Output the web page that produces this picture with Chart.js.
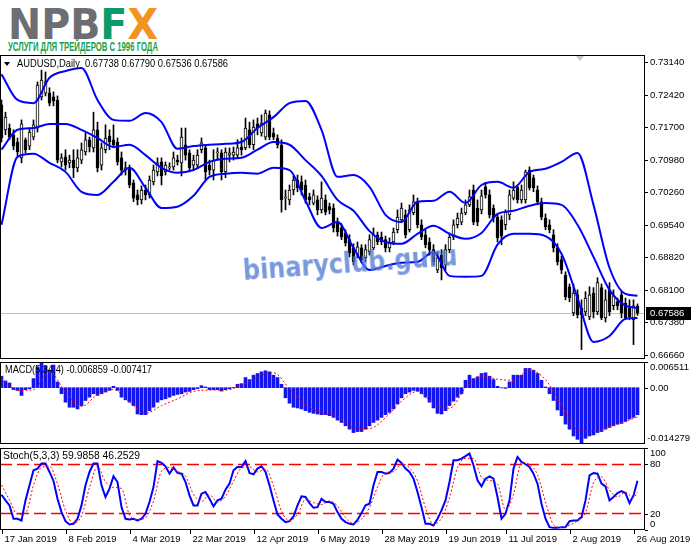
<!DOCTYPE html>
<html>
<head>
<meta charset="utf-8">
<script src="https://cdn.jsdelivr.net/npm/chart.js@4.4.1/dist/chart.umd.min.js"></script>
<style>
body{margin:0;width:691px;height:549px;background:#fff;position:relative;overflow:hidden;font-family:"Liberation Sans",Arial,sans-serif}
canvas{position:absolute;left:0}
.t{position:absolute;white-space:pre;font-size:10px;line-height:12px;color:#000;z-index:2;transform-origin:0 50%}
#logo{position:absolute;left:8px;top:4px;font:bold 42px/42px "DejaVu Sans",sans-serif;white-space:nowrap;transform-origin:0 0;z-index:2}
#logo .g{color:#6d6e71}#logo .f{color:#0c9a69}#logo .x{color:#f39321}
#slogan{position:absolute;left:8px;top:41px;font:bold 12px/12px "Liberation Sans",Arial,sans-serif;color:#17a04c;white-space:nowrap;transform-origin:0 0;z-index:2}
#tri{position:absolute;left:4px;top:62px;width:0;height:0;border-left:3px solid transparent;border-right:3px solid transparent;border-top:4px solid #000;z-index:2}
#wm{position:absolute;left:243px;top:255px;font:bold 28px/32px "DejaVu Sans",sans-serif;color:rgba(82,124,212,0.78);white-space:nowrap;transform-origin:0 50%;z-index:3}
#shift{position:absolute;left:576px;top:56px;width:0;height:0;border-left:4px solid transparent;border-right:4px solid transparent;border-top:5px solid #c8c8c8;z-index:2}
</style>
</head>
<body>
<canvas id="main" width="691" height="304" style="top:55px"></canvas>
<canvas id="macd" width="691" height="82" style="top:362px"></canvas>
<canvas id="stoch" width="691" height="101" style="top:448px"></canvas>
<div id="logo"><span class="g">NPB</span><span class="f">F</span><span class="x">X</span></div>
<div id="slogan">УСЛУГИ ДЛЯ ТРЕЙДЕРОВ С 1996 ГОДА</div>
<div id="tri"></div>
<div id="sym" class="t" style="left:17px;top:58px"></div>
<div id="macdTitle" class="t" style="left:5px;top:364px"></div>
<div id="stochTitle" class="t" style="left:3px;top:450px"></div>
<div id="wm">binaryclub.guru</div>
<div id="shift"></div>
<script>
// AUDUSD daily bars, 17 Jan 2019 .. 27 Aug 2019
const opens = [0.7219,0.7164,0.7168,0.7153,0.7137,0.7102,0.7142,0.7128,0.7148,0.7168,
  0.7237,0.7245,0.7245,0.7237,0.7230,0.7093,0.7104,0.7091,0.7097,0.7080,
  0.7097,0.7115,0.7142,0.7124,0.7164,0.7086,0.7120,0.7150,0.7142,0.7137,
  0.7102,0.7075,0.7080,0.7047,0.7020,0.7009,0.7031,0.7020,0.7049,0.7071,
  0.7093,0.7071,0.7080,0.7082,0.7097,0.7091,0.7131,0.7113,0.7086,0.7086,
  0.7120,0.7124,0.7086,0.7075,0.7113,0.7113,0.7071,0.7108,0.7108,0.7108,
  0.7126,0.7124,0.7164,0.7131,0.7177,0.7157,0.7148,0.7197,0.7157,0.7146,
  0.7131,0.7013,0.7009,0.7031,0.7053,0.7049,0.7042,0.7016,0.7002,0.7009,
  0.6987,0.7009,0.6994,0.6991,0.6960,0.6947,0.6936,0.6921,0.6903,0.6887,
  0.6903,0.6881,0.6894,0.6903,0.6932,0.6927,0.6921,0.6903,0.6916,0.6943,
  0.6965,0.6976,0.6943,0.6980,0.7005,0.6954,0.6932,0.6916,0.6899,0.6854,
  0.6887,0.6865,0.6899,0.6927,0.6954,0.6960,0.6980,0.6998,0.7031,0.6991,
  0.6987,0.7038,0.7020,0.6991,0.6971,0.6965,0.6954,0.6976,0.7013,0.7036,
  0.7009,0.7009,0.7075,0.7058,0.7031,0.7005,0.6969,0.6954,0.6932,0.6903,
  0.6877,0.6843,0.6817,0.6759,0.6799,0.6770,0.6761,0.6750,0.6803,0.6761,
  0.6815,0.6748,0.6810,0.6775,0.6784,0.6799,0.6781,0.6770,0.6744,0.67738];
const highs = [0.7230,0.7203,0.7177,0.7164,0.7146,0.7186,0.7146,0.7168,0.7186,0.7270,
  0.7296,0.7292,0.7257,0.7248,0.7239,0.7111,0.7120,0.7108,0.7120,0.7120,
  0.7135,0.7157,0.7148,0.7203,0.7181,0.7135,0.7175,0.7164,0.7175,0.7146,
  0.7115,0.7093,0.7086,0.7053,0.7031,0.7040,0.7042,0.7062,0.7086,0.7102,
  0.7102,0.7093,0.7091,0.7115,0.7108,0.7168,0.7168,0.7120,0.7108,0.7120,
  0.7146,0.7131,0.7097,0.7120,0.7124,0.7120,0.7124,0.7124,0.7126,0.7142,
  0.7146,0.7190,0.7181,0.7186,0.7190,0.7197,0.7208,0.7206,0.7168,0.7153,
  0.7142,0.7031,0.7042,0.7062,0.7064,0.7062,0.7053,0.7024,0.7031,0.7018,
  0.7049,0.7020,0.7002,0.7000,0.6969,0.6956,0.6943,0.6932,0.6912,0.6916,
  0.6910,0.6910,0.6932,0.6947,0.6938,0.6938,0.6929,0.6925,0.6947,0.6987,
  0.7002,0.6987,0.6998,0.7020,0.7013,0.6965,0.6943,0.6925,0.6910,0.6894,
  0.6899,0.6910,0.6936,0.6965,0.6980,0.6991,0.7009,0.7031,0.7042,0.7009,
  0.7031,0.7047,0.7031,0.6998,0.6978,0.6974,0.6987,0.7031,0.7049,0.7042,
  0.7042,0.7075,0.7082,0.7064,0.7040,0.7013,0.6978,0.6965,0.6943,0.6912,
  0.6885,0.6850,0.6823,0.6823,0.6810,0.6788,0.6806,0.6817,0.6815,0.6837,
  0.6823,0.6810,0.6826,0.6810,0.6792,0.6806,0.6792,0.6788,0.6788,0.67790];
const lows = [0.7137,0.7153,0.7142,0.7120,0.7106,0.7091,0.7113,0.7120,0.7142,0.7159,
  0.7230,0.7239,0.7217,0.7217,0.7091,0.7082,0.7075,0.7080,0.7058,0.7071,
  0.7089,0.7108,0.7115,0.7115,0.7071,0.7075,0.7113,0.7120,0.7124,0.7086,
  0.7064,0.7064,0.7036,0.7005,0.6998,0.7000,0.7009,0.7013,0.7042,0.7062,
  0.7042,0.7064,0.7075,0.7075,0.7086,0.7062,0.7097,0.7071,0.7075,0.7080,
  0.7113,0.7053,0.7064,0.7053,0.7097,0.7053,0.7058,0.7093,0.7097,0.7102,
  0.7108,0.7120,0.7124,0.7120,0.7153,0.7150,0.7142,0.7142,0.7142,0.7124,
  0.6982,0.6987,0.6998,0.7020,0.7027,0.7020,0.7002,0.6998,0.6998,0.6976,
  0.6980,0.6976,0.6978,0.6938,0.6929,0.6921,0.6907,0.6883,0.6865,0.6881,
  0.6870,0.6872,0.6887,0.6899,0.6910,0.6910,0.6894,0.6894,0.6910,0.6936,
  0.6960,0.6925,0.6938,0.6976,0.6947,0.6921,0.6903,0.6887,0.6865,0.6848,
  0.6832,0.6854,0.6892,0.6921,0.6947,0.6954,0.6976,0.6994,0.6954,0.6952,
  0.6978,0.7013,0.6969,0.6960,0.6916,0.6910,0.6943,0.6965,0.7009,0.7002,
  0.7002,0.7002,0.7031,0.7027,0.6998,0.6965,0.6943,0.6936,0.6894,0.6865,
  0.6846,0.6788,0.6784,0.6753,0.6748,0.6678,0.6753,0.6744,0.6748,0.6755,
  0.6744,0.6739,0.6753,0.6766,0.6766,0.6748,0.6744,0.6744,0.6689,0.67536];
const closes = [0.7146,0.7192,0.7148,0.7128,0.7115,0.7177,0.7120,0.7159,0.7175,0.7263,
  0.7274,0.7270,0.7223,0.7228,0.7097,0.7102,0.7086,0.7097,0.7080,0.7102,
  0.7120,0.7142,0.7126,0.7164,0.7080,0.7124,0.7146,0.7137,0.7131,0.7093,
  0.7075,0.7080,0.7042,0.7013,0.7009,0.7031,0.7020,0.7053,0.7075,0.7091,
  0.7062,0.7086,0.7082,0.7102,0.7093,0.7148,0.7108,0.7080,0.7097,0.7108,
  0.7135,0.7071,0.7075,0.7097,0.7115,0.7071,0.7115,0.7113,0.7115,0.7124,
  0.7120,0.7168,0.7131,0.7170,0.7168,0.7179,0.7201,0.7148,0.7148,0.7131,
  0.7009,0.7016,0.7031,0.7053,0.7036,0.7031,0.7009,0.7009,0.7020,0.6987,
  0.7013,0.6982,0.6987,0.6947,0.6938,0.6927,0.6914,0.6892,0.6872,0.6905,
  0.6877,0.6899,0.6921,0.6932,0.6916,0.6916,0.6903,0.6914,0.6938,0.6971,
  0.6991,0.6932,0.6987,0.7005,0.6954,0.6927,0.6910,0.6899,0.6872,0.6881,
  0.6859,0.6899,0.6927,0.6954,0.6969,0.6980,0.6998,0.7016,0.6960,0.6960,
  0.7018,0.7020,0.6976,0.6969,0.6925,0.6929,0.6982,0.7020,0.7031,0.7009,
  0.7031,0.7071,0.7036,0.7036,0.7005,0.6971,0.6949,0.6943,0.6903,0.6872,
  0.6854,0.6795,0.6792,0.6803,0.6755,0.6755,0.6792,0.6799,0.6761,0.6826,
  0.6748,0.6788,0.6761,0.6797,0.6775,0.6759,0.6748,0.6750,0.6775,0.67586];

// Bollinger bands, read every 4th bar (+ last bar)
const bandIdx = [0,4,8,12,16,20,24,28,32,36,40,44,48,52,56,60,64,68,72,76,80,84,88,92,96,100,104,108,112,116,120,124,128,132,136,140,144,148,152,156,159];
const bbUpper = [0.7287,0.7230,0.7223,0.7279,0.7294,0.7301,0.7230,0.7186,0.7184,0.7201,
  0.7181,0.7122,0.7128,0.7131,0.7133,0.7137,0.7168,0.7192,0.7223,0.7228,
  0.7164,0.7060,0.7064,0.7038,0.6976,0.6960,0.7005,0.7007,0.7027,0.7002,
  0.7042,0.7049,0.7036,0.7071,0.7078,0.7093,0.7113,0.6998,0.6859,0.6801,0.6797];
const bbMiddle = [0.7120,0.7164,0.7168,0.7177,0.7177,0.7164,0.7146,0.7126,0.7131,0.7108,
  0.7080,0.7069,0.7075,0.7093,0.7100,0.7102,0.7120,0.7137,0.7131,0.7097,
  0.7062,0.7009,0.6985,0.6940,0.6916,0.6912,0.6934,0.6952,0.6934,0.6923,
  0.6936,0.6978,0.6985,0.6996,0.7002,0.6998,0.6954,0.6883,0.6810,0.6775,0.6770];
const bbLower = [0.6954,0.7104,0.7111,0.7091,0.7071,0.7027,0.7020,0.7049,0.7080,0.7036,
  0.6991,0.6994,0.7018,0.7060,0.7067,0.7069,0.7067,0.7080,0.7075,0.7007,
  0.6947,0.6960,0.6903,0.6854,0.6863,0.6870,0.6872,0.6894,0.6841,0.6839,
  0.6841,0.6910,0.6934,0.6934,0.6929,0.6890,0.6792,0.6695,0.6708,0.6746,0.6748];

// MACD(5,34,4): histogram per bar, signal read every 4th bar
const macdHist = [0.00291,0.00171,0.00120,-0.00051,-0.00068,-0.00197,-0.00051,-0.00026,0.00231,0.00531,
  0.006511,0.00548,0.00445,0.00574,0.00146,-0.00154,-0.00368,-0.00496,-0.00496,-0.00539,
  -0.00454,-0.00325,-0.00240,-0.00154,-0.00197,-0.00154,-0.00111,-0.00068,0.00034,-0.00068,
  -0.00240,-0.00308,-0.00368,-0.00454,-0.00668,-0.00685,-0.00685,-0.00582,-0.00496,-0.00368,
  -0.00308,-0.00282,-0.00240,-0.00197,-0.00171,-0.00154,-0.00111,-0.00094,-0.00051,-0.00026,
  0.00051,0.00017,-0.00051,-0.00051,-0.00051,-0.00086,-0.00051,-0.00026,0.00005,0.00086,
  0.00103,0.00257,0.00205,0.00317,0.00360,0.00402,0.00428,0.00402,0.00317,0.00257,
  0.00086,-0.00257,-0.00394,-0.00496,-0.00514,-0.00539,-0.00582,-0.00625,-0.00651,-0.00668,
  -0.00685,-0.00685,-0.00710,-0.00753,-0.00822,-0.00882,-0.00967,-0.01053,-0.01138,-0.01113,
  -0.01113,-0.01053,-0.00967,-0.00882,-0.00822,-0.00753,-0.00685,-0.00625,-0.00539,-0.00411,
  -0.00257,-0.00154,-0.00111,-0.00068,-0.00086,-0.00154,-0.00240,-0.00368,-0.00514,-0.00651,
  -0.00668,-0.00582,-0.00454,-0.00342,-0.00240,-0.00154,0.00188,0.00317,0.00231,0.00274,
  0.00360,0.00377,0.00291,0.00205,0.00034,-0.00005,-0.00017,0.00146,0.00317,0.00317,
  0.00317,0.00488,0.00488,0.00445,0.00360,0.00188,0.00017,-0.00154,-0.00325,-0.00565,
  -0.00710,-0.00924,-0.01053,-0.01224,-0.01310,-0.014279,-0.01284,-0.01224,-0.01198,-0.01138,
  -0.01113,-0.01053,-0.01010,-0.00967,-0.00924,-0.00907,-0.00856,-0.00796,-0.00753,-0.006859];
const macdSignal = [0.00231,-0.00068,-0.00051,0.00402,-0.00111,-0.00479,-0.00171,-0.00043,-0.00368,-0.00651,
  -0.00454,-0.00282,-0.00094,-0.00060,-0.00060,0.00060,0.00274,0.00377,-0.00026,-0.00454,
  -0.00625,-0.00736,-0.01010,-0.01036,-0.00762,-0.00342,-0.00094,-0.00411,-0.00522,-0.00009,
  0.00300,0.00214,0.00188,0.00445,0.00205,-0.00445,-0.01061,-0.01113,-0.00993,-0.00856,-0.007417];

// Stochastic(5,3,3): %K per bar, %D read every 2nd bar (+ last bar)
const stochK = [43.0,36.1,30.0,13.7,13.7,11.6,36.1,54.5,72.8,74.9,
  81.0,81.0,70.8,59.8,38.1,21.8,10.8,6.7,7.5,13.7,
  30.0,54.5,70.8,81.0,81.0,54.5,40.2,50.4,65.5,58.5,
  27.9,13.7,12.8,13.7,11.6,13.7,19.8,34.1,52.4,84.0,
  81.8,77.7,68.7,76.1,69.6,68.7,58.5,42.2,30.0,30.0,
  44.3,46.3,38.1,28.8,36.1,38.1,49.2,56.5,72.8,76.9,
  76.9,84.2,69.6,67.9,74.9,77.7,70.8,54.5,36.1,19.0,
  13.7,9.6,10.8,16.5,30.0,41.0,40.2,32.8,27.1,27.9,
  38.1,34.1,34.1,32.0,21.8,13.7,9.6,7.5,6.7,12.4,
  20.6,30.0,32.0,54.5,70.8,70.8,68.7,69.6,74.9,85.9,
  81.8,74.9,70.8,62.6,46.3,27.9,7.5,7.5,5.5,13.7,
  23.9,36.1,58.5,85.1,85.1,87.1,90.0,93.2,78.9,60.6,
  53.2,62.6,65.5,62.6,40.2,13.7,19.8,36.1,74.9,89.1,
  83.0,80.2,76.9,68.7,56.5,32.0,13.7,3.5,2.6,2.6,
  3.5,3.5,10.8,11.6,11.6,15.7,36.1,66.7,69.6,68.7,
  56.5,53.2,36.1,40.2,45.1,47.5,45.1,32.8,42.2,59.9858];
const stochIdxD = [0,2,4,6,8,10,12,14,16,18,20,22,24,26,28,30,32,34,36,38,40,42,44,46,48,50,52,54,56,58,
  60,62,64,66,68,70,72,74,76,78,80,82,84,86,88,90,92,94,96,98,100,102,104,106,108,110,112,114,116,118,
  120,122,124,126,128,130,132,134,136,138,140,142,144,146,148,150,152,154,156,158,159];
const stochD = [55,36.4,19.1,20.5,54.5,76.2,77.6,56.2,23.6,8.3,
  17.1,51.8,77.6,58.6,52.0,50.6,18.1,12.7,15.0,35.4,
  71.7,76.1,71.5,65.6,43.6,34.8,42.9,34.3,41.1,59.5,
  75.5,76.9,70.8,74.5,53.8,22.9,11.4,19.1,37.1,33.4,
  31.0,35.4,29.3,15.0,7.9,13.2,27.5,52.4,70.1,71.1,
  80.9,75.8,59.9,27.2,6.8,14.4,39.5,76.2,87.4,87.4,
  64.2,60.4,56.1,24.6,43.6,82.3,80.0,67.4,34.1,6.6,
  2.9,5.9,11.3,21.1,57.5,64.9,48.6,40.5,45.9,39.4,46.2529];

// axes
const dateIdx = [0,16,32,47,63,79,95,111,126,142,158];
const dateLabels = ['17 Jan 2019','8 Feb 2019','4 Mar 2019','22 Mar 2019','12 Apr 2019','6 May 2019',
  '28 May 2019','19 Jun 2019','11 Jul 2019','2 Aug 2019','26 Aug 2019'];
const priceTicks = [0.73140,0.72420,0.71700,0.70980,0.70260,0.69540,0.68820,0.68100,0.67380,0.66660];
const macdTicks = [0.006511,0,-0.014279];
const macdTickLabels = ['0.006511','0.00','-0.014279'];
const stochTicks = [100,80,20,0];
const stochLevels = [20,80];

const n = closes.length;
const bars = closes.map((c, i) => i);
const AXIS_FONT = '9.5px "Liberation Sans", Arial, sans-serif';
const xScale = {type: 'linear', min: -0.375, max: 160.875, offset: false, display: false};

const panel = {
  id: 'panel',
  beforeDatasetsDraw(chart, args, o) {
    const {ctx, chartArea: a} = chart;
    const y = chart.scales.y;
    ctx.save();
    if (o.levels) {
      ctx.strokeStyle = '#ff0000';
      ctx.lineWidth = 1.5;
      ctx.setLineDash([12, 5]);
      o.levels.forEach(v => {
        const py = y.getPixelForValue(v);
        ctx.beginPath(); ctx.moveTo(a.left, py); ctx.lineTo(a.right, py); ctx.stroke();
      });
    }
    if (o.last != null) {
      const py = Math.round(y.getPixelForValue(o.last)) + 0.5;
      ctx.strokeStyle = '#c0c0c0';
      ctx.lineWidth = 1;
      ctx.beginPath(); ctx.moveTo(a.left, py); ctx.lineTo(a.right, py); ctx.stroke();
    }
    ctx.restore();
  },
  afterDraw(chart, args, o) {
    const {ctx, chartArea: a} = chart;
    const y = chart.scales.y, x = chart.scales.x;
    ctx.save();
    ctx.strokeStyle = '#000';
    ctx.lineWidth = 1;
    ctx.strokeRect(a.left + 0.5, a.top + 0.5, a.right - a.left - 1, a.bottom - a.top - 1);
    ctx.font = AXIS_FONT;
    ctx.fillStyle = '#000';
    ctx.textBaseline = 'middle';
    o.ticks.forEach((v, k) => {
      const py = Math.round(y.getPixelForValue(v)) + 0.5;
      const ly = o.clamp ? Math.min(Math.max(py, a.top + 5), a.bottom - 6) : py;
      const lx = Math.min(a.right + 5, chart.width - 1 - ctx.measureText(o.labels[k]).width);
      ctx.beginPath(); ctx.moveTo(a.right, py); ctx.lineTo(a.right + 3, py); ctx.stroke();
      ctx.fillText(o.labels[k], lx, ly);
    });
    if (o.last != null) {
      const py = y.getPixelForValue(o.last);
      ctx.fillStyle = '#000';
      ctx.fillRect(a.right + 1, Math.round(py) - 6, 45, 13);
      ctx.fillStyle = '#fff';
      ctx.fillText(o.last.toFixed(5), a.right + 5, Math.round(py) + 0.5);
    }
    if (o.xticks) {
      ctx.fillStyle = '#000';
      o.xticks.forEach((v, k) => {
        const px = Math.round(x.getPixelForValue(v)) + 0.5;
        ctx.beginPath(); ctx.moveTo(px, a.bottom); ctx.lineTo(px, a.bottom + 4); ctx.stroke();
        ctx.fillText(o.xlabels[k], px + 2, a.bottom + 9);
      });
    }
    ctx.restore();
  }
};

const base = {
  responsive: false,
  animation: false,
  devicePixelRatio: 1,
  events: [],
};

const band = (vals) => ({
  type: 'line',
  data: bandIdx.map((i, k) => ({x: i, y: vals[k]})),
  borderColor: '#0000ff',
  borderWidth: 2,
  pointRadius: 0,
  cubicInterpolationMode: 'monotone',
  order: 1
});

new Chart(document.getElementById('main'), {
  type: 'bar',
  data: {
    datasets: [
      band(bbUpper), band(bbMiddle), band(bbLower),
      {
        data: bars.map(i => ({x: i, y: [opens[i], closes[i]]})),
        backgroundColor: bars.map(i => closes[i] >= opens[i] ? '#ffffff' : '#000000'),
        borderColor: '#000',
        borderWidth: 1,
        borderSkipped: false,
        barThickness: 3,
        minBarLength: 1,
        grouped: false,
        order: 2
      },
      {
        data: bars.map(i => ({x: i, y: [lows[i], highs[i]]})),
        backgroundColor: '#000',
        barThickness: 1,
        grouped: false,
        order: 3
      }
    ]
  },
  options: {
    ...base,
    layout: {padding: {left: 0, right: 46, top: 0, bottom: 0}},
    scales: {x: xScale, y: {min: 0.665715, max: 0.732948, display: false}},
    plugins: {
      legend: {display: false}, tooltip: {enabled: false},
      panel: {ticks: priceTicks, labels: priceTicks.map(v => v.toFixed(5)), last: closes[n - 1]}
    }
  },
  plugins: [panel]
});

new Chart(document.getElementById('macd'), {
  type: 'bar',
  data: {
    datasets: [
      {
        type: 'line',
        data: bandIdx.map((i, k) => ({x: i, y: macdSignal[k]})),
        borderColor: '#ff0000',
        borderWidth: 1,
        borderDash: [2, 2],
        pointRadius: 0,
        cubicInterpolationMode: 'monotone',
        order: 1
      },
      {
        data: bars.map(i => ({x: i, y: macdHist[i]})),
        backgroundColor: '#1414f0',
        barThickness: 3,
        grouped: false,
        order: 2
      }
    ]
  },
  options: {
    ...base,
    layout: {padding: {left: 0, right: 46, top: 0, bottom: 0}},
    scales: {x: xScale, y: {min: -0.014279, max: 0.006511, display: false}},
    plugins: {
      legend: {display: false}, tooltip: {enabled: false},
      panel: {ticks: macdTicks, labels: macdTickLabels, clamp: true}
    }
  },
  plugins: [panel]
});

new Chart(document.getElementById('stoch'), {
  type: 'line',
  data: {
    datasets: [
      {
        data: stochIdxD.map((i, k) => ({x: i, y: stochD[k]})),
        borderColor: '#ff0000',
        borderWidth: 1,
        borderDash: [2, 2],
        pointRadius: 0,
        cubicInterpolationMode: 'monotone',
        order: 1
      },
      {
        data: bars.map(i => ({x: i, y: stochK[i]})),
        borderColor: '#0000ff',
        borderWidth: 2,
        pointRadius: 0,
        tension: 0,
        order: 2
      }
    ]
  },
  options: {
    ...base,
    layout: {padding: {left: 0, right: 46, top: 0, bottom: 19}},
    scales: {x: xScale, y: {min: 0, max: 100, display: false}},
    plugins: {
      legend: {display: false}, tooltip: {enabled: false},
      panel: {ticks: stochTicks, labels: stochTicks.map(String), clamp: true,
              levels: stochLevels, xticks: dateIdx, xlabels: dateLabels}
    }
  },
  plugins: [panel]
});

// titles
document.getElementById('sym').textContent =
  'AUDUSD,Daily  ' + [opens[n - 1], highs[n - 1], lows[n - 1], closes[n - 1]].map(v => v.toFixed(5)).join(' ');
document.getElementById('macdTitle').textContent =
  'MACD(5,34,4) ' + macdHist[n - 1].toFixed(6) + ' ' + macdSignal[macdSignal.length - 1].toFixed(6);
document.getElementById('stochTitle').textContent =
  'Stoch(5,3,3) ' + stochK[n - 1].toFixed(4) + ' ' + stochD[stochD.length - 1].toFixed(4);

// squeeze text to the widths seen in the picture
function fit(id, w, pre) {
  const el = document.getElementById(id);
  const r = w / el.getBoundingClientRect().width;
  el.style.transform = (pre || '') + ' scaleX(' + r.toFixed(3) + ')';
}
fit('logo', 150);
fit('slogan', 150);
fit('sym', 211);
fit('macdTitle', 147);
fit('stochTitle', 137);
fit('wm', 215, 'rotate(-4deg)');
</script>
</body>
</html>
